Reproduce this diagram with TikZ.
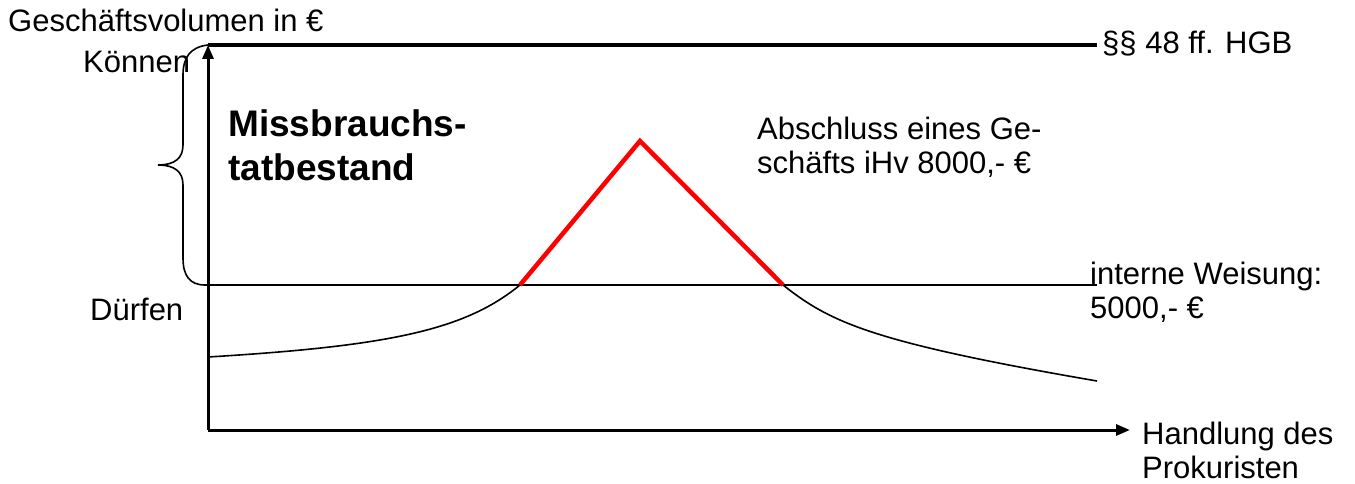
\documentclass[tikz,border=0pt]{standalone}
\usepackage{fontspec}
\setmainfont{Liberation Sans}
\usetikzlibrary{arrows.meta}
\tikzset{
  lbl/.style={anchor=base west, inner sep=0pt, font=\fontsize{31}{34}\selectfont, align=left},
  boldlbl/.style={anchor=base west, inner sep=0pt, font=\fontsize{37}{44}\selectfont\bfseries, align=left},
  axis/.style={line width=3pt, -{Triangle[length=14pt,width=11pt]}},
  thin/.style={line width=1.6pt},
  redline/.style={line width=4.5pt, color=red, line join=miter},
}
\begin{document}
\begin{tikzpicture}[x=1pt,y=-1pt]
\useasboundingbox (0,0) rectangle (1355,484);
% coordinates
\coordinate (O) at (208,430);
\coordinate (Ytop) at (208,45);
\coordinate (Xend) at (1130,430);
\coordinate (TopEnd) at (1097,45);
\coordinate (Wl) at (205,285);
\coordinate (Wr) at (1097,285);
\coordinate (C0) at (208,357);
\coordinate (Pl) at (520,285);
\coordinate (Pk) at (640,141);
\coordinate (Pr) at (783,285);
\coordinate (C1) at (1097,381);
% lines
\draw[line width=4.5pt] (Ytop) -- (TopEnd);
\draw[axis] (O) -- (Ytop);
\draw[axis] (O) -- (Xend);
\draw[thin] (Wl) -- (Wr);
% brace
\draw[thin] (Ytop) .. controls (190,47) and (183,58) .. (183,75)
  -- (183,145) .. controls (183,158) and (175,165) .. (158,165)
  .. controls (175,165) and (183,172) .. (183,185)
  -- (183,258) .. controls (183,276) and (190,285) .. (Wl);
% curve
\draw[thin] (C0) .. controls (390,346) and (465,330) .. (Pl);
\draw[thin] (Pr) .. controls (830,322) and (870,342) .. (C1);
\draw[redline] (Pl) -- (Pk) -- (Pr);
% labels
\node[lbl] (gv) at (8,32) {Geschäftsvolumen in €};
\node[lbl] (kn) at (83,73) {Können};
\node[lbl] (df) at (90,320) {Dürfen};
\node[boldlbl] (mb) at (228,181) {Missbrauchs-\\tatbestand};
\node[lbl] (ab) at (757,173) {Abschluss eines Ge-\\schäfts iHv 8000,- €};
\node[lbl] (hgb) at (1102,54) {§§ 48 ff. HGB};
\node[lbl] (iw) at (1090,318) {interne Weisung:\\5000,- €};
\node[lbl] (hd) at (1142,478) {Handlung des\\Prokuristen};
\end{tikzpicture}
\end{document}
